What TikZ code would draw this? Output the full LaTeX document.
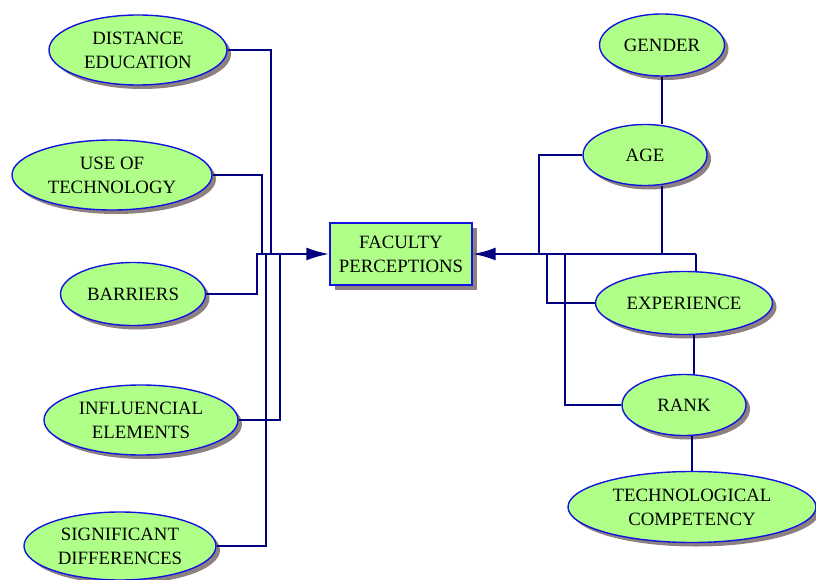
\documentclass[tikz,border=0pt]{standalone}
\usepackage{fontspec}
\setmainfont{Liberation Serif}
\usetikzlibrary{shapes.geometric,shadows,arrows.meta}

\definecolor{fillgreen}{RGB}{176,255,136}
\definecolor{edgeblue}{RGB}{20,20,225}
\definecolor{linenavy}{RGB}{0,0,128}
\definecolor{shadowgray}{RGB}{140,128,128}

\tikzset{
  bubble/.style={ellipse, draw=edgeblue, line width=1.4pt, fill=fillgreen,
    inner sep=0pt, align=center, font=\fontsize{18.8}{24}\selectfont,
    drop shadow={shadow xshift=4pt, shadow yshift=-4pt, fill=shadowgray, opacity=1}},
  box/.style={rectangle, draw=edgeblue, line width=1.4pt, fill=fillgreen,
    inner sep=0pt, align=center, font=\fontsize{18.8}{24}\selectfont,
    drop shadow={shadow xshift=5pt, shadow yshift=-5pt, fill=shadowgray, opacity=1}},
  link/.style={draw=linenavy, line width=2.5pt},
  tip/.style={-{Latex[length=23pt,width=13pt]}}
}

\begin{document}
\begin{tikzpicture}[x=1pt, y=-1pt]
\useasboundingbox (0,0) rectangle (816,580);

% left side
\node[bubble, minimum width=178pt, minimum height=70pt] (dist)    at (138,50)  {DISTANCE\\EDUCATION};
\node[bubble, minimum width=200pt, minimum height=70pt] (usetech) at (112,175) {USE OF\\TECHNOLOGY};
\node[bubble, minimum width=145pt, minimum height=63pt] (barr)    at (133,294) {BARRIERS};
\node[bubble, minimum width=194pt, minimum height=70pt] (infl)    at (141,420) {INFLUENCIAL\\ELEMENTS};
\node[bubble, minimum width=192pt, minimum height=68pt] (sig)     at (120,546) {SIGNIFICANT\\DIFFERENCES};

% centre
\node[box, minimum width=142pt, minimum height=62pt] (fac) at (401,254) {FACULTY\\PERCEPTIONS};

% right side
\node[bubble, minimum width=125pt, minimum height=62pt] (gen)  at (662,45)  {GENDER};
\node[bubble, minimum width=124pt, minimum height=61pt] (age)  at (645,155) {AGE};
\node[bubble, minimum width=177pt, minimum height=63pt] (exp)  at (684,303) {EXPERIENCE};
\node[bubble, minimum width=124pt, minimum height=61pt] (rank) at (684,405) {RANK};
\node[bubble, minimum width=248pt, minimum height=71pt] (comp) at (692,507) {TECHNOLOGICAL\\COMPETENCY};

% bus joints
\coordinate (lbus) at (257,254);
\coordinate (jd) at (271,254);
\coordinate (ju) at (262,254);
\coordinate (js) at (266,254);
\coordinate (ji) at (280,254);
\coordinate (rbus) at (696,254);
\coordinate (ja) at (539,254);
\coordinate (je) at (547,254);
\coordinate (jr) at (565,254);

\draw[link] (dist.east) -| (jd);
\draw[link] (usetech.east) -| (ju);
\draw[link] (infl.east) -| (ji);
\draw[link] (sig.east) -| (js);
\draw[link, tip] (barr.east) -| (lbus) -- (fac.west);

\draw[link, tip] (rbus) -- (fac.east);
\draw[link] (rbus) -- (rbus |- exp.north);
\draw[link] (age.west) -| (ja);
\draw[link] (exp.west) -| (je);
\draw[link] (rank.west) -| (jr);
\draw[link] (gen.south) -- (gen.south |- age.north);
\draw[link] (age.south -| gen.south) -- (gen.south |- rbus);
\draw[link] ([xshift=10pt]exp.south) -- ([xshift=10pt]rank.north);
\draw[link] (rank.south -| comp.north) -- (comp.north);
\end{tikzpicture}
\end{document}
